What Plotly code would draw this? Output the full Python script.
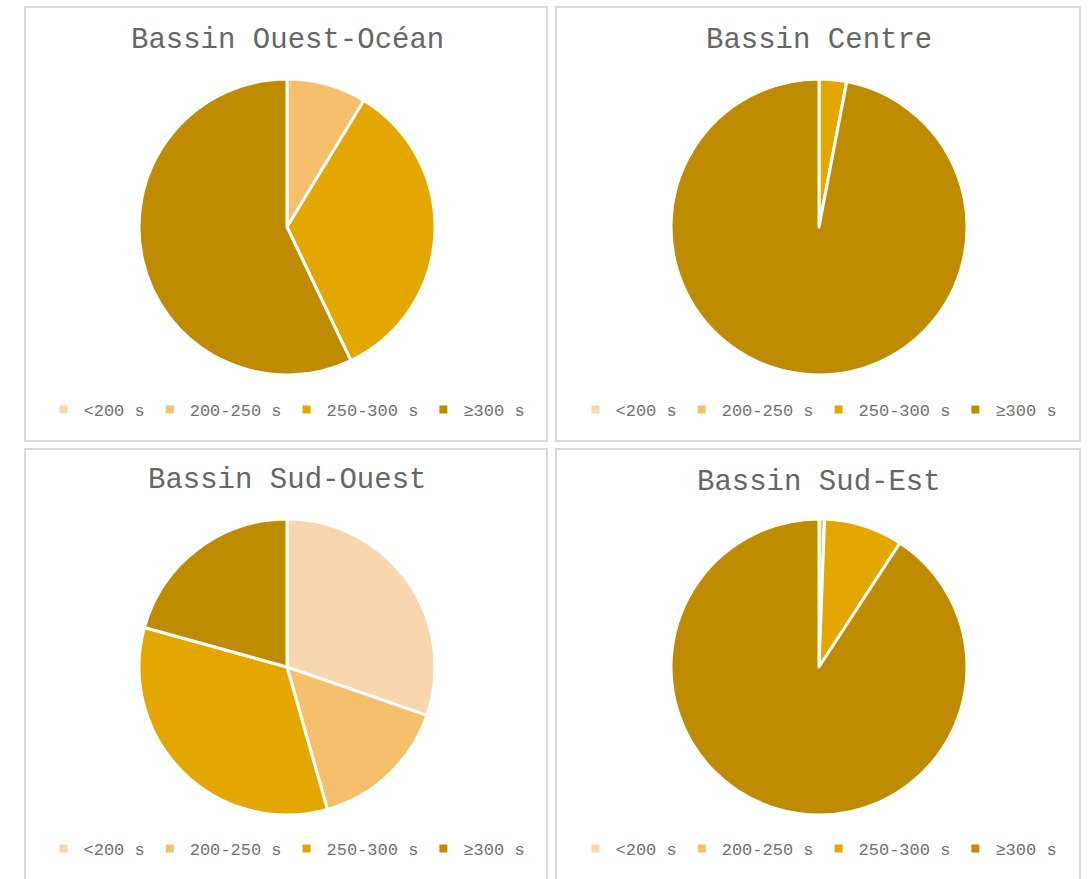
import plotly.graph_objects as go

categories = ["<200 s", "200-250 s", "250-300 s", "≥300 s"]
titles = ["Bassin Ouest-Océan", "Bassin Centre", "Bassin Sud-Ouest", "Bassin Sud-Est"]
ouest_ocean = [0, 8.7, 34.2, 57.1]
centre = [0, 0, 3.0, 97.0]
sud_ouest = [30.3, 15.3, 33.7, 20.7]
sud_est = [0, 0.6, 8.6, 90.8]
series = [ouest_ocean, centre, sud_ouest, sud_est]
colors = ["#F8D6AF", "#F5BF6B", "#E3A700", "#BF8B00"]

W, H = 1089, 879
def px(x):
    return x / W
def py(y):
    return 1 - y / H

# panel boxes (pixel coordinates) and pie centres
panels = [(25, 7, 547, 441), (556, 7, 1080, 441), (25, 449, 547, 890), (556, 449, 1080, 890)]
centers = [(287, 227), (819, 227), (287, 667), (819, 667)]
title_y = [40, 40, 481, 483]
legend_y = [410, 410, 849, 849]
R = 148

TEXT_FONT = "Liberation Mono, Courier New, monospace"

fig = go.Figure()
legend_names = ["legend", "legend2", "legend3", "legend4"]
for i, vals in enumerate(series):
    cx, cy = centers[i]
    fig.add_trace(go.Pie(
        labels=categories,
        values=vals,
        sort=False,
        direction="clockwise",
        rotation=0,
        textinfo="none",
        hoverinfo="label+percent",
        marker=dict(colors=colors, line=dict(color="white", width=3)),
        domain=dict(x=[px(cx - R), px(cx + R)], y=[py(cy + R), py(cy - R)]),
        showlegend=False,
        name=titles[i],
    ))
    # legend entries for this panel
    for c, col in zip(categories, colors):
        fig.add_trace(go.Scatter(
            x=[None], y=[None], mode="markers", name=c,
            marker=dict(symbol="square", size=8, color=col),
            legend=legend_names[i], showlegend=True, hoverinfo="skip",
        ))

shapes = []
for (x0, y0, x1, y1) in panels:
    shapes.append(dict(type="rect", xref="paper", yref="paper",
                       x0=px(x0), x1=px(x1), y0=py(y1), y1=py(y0),
                       line=dict(color="#D9D9D9", width=2), fillcolor="rgba(0,0,0,0)"))

annotations = []
for i, t in enumerate(titles):
    annotations.append(dict(text=t, xref="paper", yref="paper",
                            x=px(centers[i][0]), y=py(title_y[i]),
                            xanchor="center", yanchor="middle", showarrow=False,
                            font=dict(family=TEXT_FONT, size=29, color="#666666")))

layout_legends = {}
for i, name in enumerate(legend_names):
    layout_legends[name] = dict(
        orientation="h", x=px(centers[i][0]), y=py(legend_y[i]),
        xanchor="center", yanchor="middle", traceorder="normal",
        font=dict(family=TEXT_FONT, size=17, color="#707070"),
        bgcolor="rgba(0,0,0,0)", itemclick=False, itemdoubleclick=False,
    )

fig.update_layout(
    width=W, height=H,
    margin=dict(l=0, r=0, t=0, b=0),
    paper_bgcolor="white", plot_bgcolor="white",
    xaxis=dict(visible=False), yaxis=dict(visible=False),
    shapes=shapes, annotations=annotations,
    **layout_legends,
)

fig.write_html("out.html", config={"displayModeBar": False},
               post_script="document.body.style.margin='0';")
